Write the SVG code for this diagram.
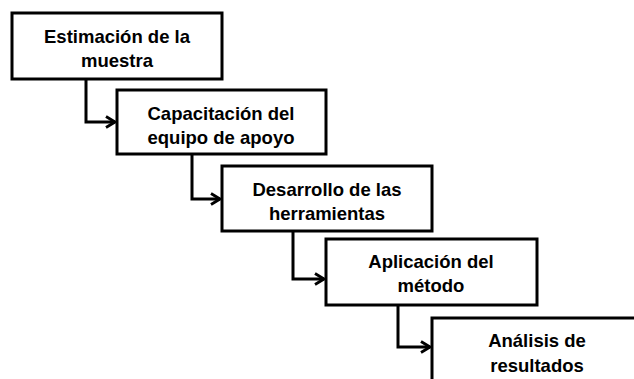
<svg xmlns="http://www.w3.org/2000/svg" width="634" height="379" viewBox="0 0 634 379">
<style>
.box{fill:#fff;stroke:#000;stroke-width:3}
.lbl{font-family:"Liberation Sans",Arial,sans-serif;font-weight:bold;font-size:18.5px;fill:#000;text-anchor:middle}
.con{fill:none;stroke:#000;stroke-width:3}
</style>
<defs>
<marker id="arr" viewBox="0 0 14 14" refX="12" refY="7" markerWidth="14" markerHeight="14" markerUnits="userSpaceOnUse" orient="auto">
<path d="M3,1.5 L12,7 L3,12.5" fill="none" stroke="#000" stroke-width="2.8"/>
</marker>
</defs>
<rect width="634" height="379" fill="#fff"/>
<g id="connectors">
<path class="con" d="M86,79 V122 H115" marker-end="url(#arr)"/>
<path class="con" d="M192,154 V199 H220" marker-end="url(#arr)"/>
<path class="con" d="M293,231 V279 H324" marker-end="url(#arr)"/>
<path class="con" d="M398,305 V347 H430" marker-end="url(#arr)"/>
</g>
<g id="n1">
<rect class="box" x="12" y="13" width="210" height="66"/>
<text class="lbl" x="117" y="43">Estimación de la</text>
<text class="lbl" x="117" y="67">muestra</text>
</g>
<g id="n2">
<rect class="box" x="117" y="90" width="209" height="64"/>
<text class="lbl" x="221" y="120">Capacitación del</text>
<text class="lbl" x="221" y="144">equipo de apoyo</text>
</g>
<g id="n3">
<rect class="box" x="222" y="166" width="210" height="65"/>
<text class="lbl" x="327" y="196">Desarrollo de las</text>
<text class="lbl" x="327" y="220">herramientas</text>
</g>
<g id="n4">
<rect class="box" x="326" y="239" width="211" height="66"/>
<text class="lbl" x="431" y="268">Aplicación del</text>
<text class="lbl" x="431" y="292">método</text>
</g>
<g id="n5">
<rect class="box" x="432" y="318" width="212" height="70"/>
<text class="lbl" x="537" y="347">Análisis de</text>
<text class="lbl" x="537" y="372">resultados</text>
</g>
</svg>
